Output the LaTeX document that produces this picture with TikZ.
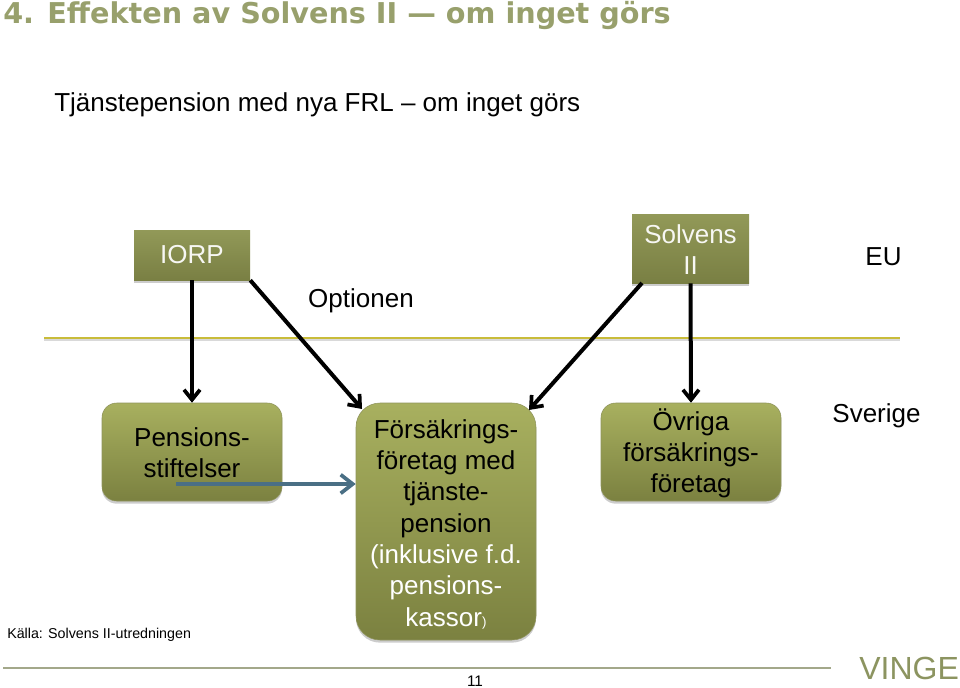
\documentclass[tikz,border=0pt]{standalone}
\usepackage{fontspec}
\setmainfont{Liberation Sans}
\newfontfamily\titlefont{DejaVu Sans}
\usetikzlibrary{shadows,arrows.meta,calc}
\definecolor{olivetext}{HTML}{98A06C}
\definecolor{vingecol}{HTML}{8C9460}
\definecolor{boxtop}{HTML}{A8B05F}
\definecolor{boxmid}{HTML}{939A4C}
\definecolor{boxbot}{HTML}{7B8140}
\definecolor{recttop}{HTML}{929958}
\definecolor{rectbot}{HTML}{797F43}
\definecolor{bluearrow}{HTML}{4A6F85}
\definecolor{rule}{HTML}{C9BC3A}
\definecolor{footline}{HTML}{A3A88A}
\tikzset{
  x=0.75pt,y=-0.75pt,
  txt/.style={inner sep=0pt,font=\fontsize{19.5}{23.5}\selectfont,align=center,text=black},
  boxtxt/.style={txt,yshift=-1.9pt},
  whitetxt/.style={txt,text=white!92!olivetext},
  roundbox/.style={rounded corners=#1,top color=boxtop,middle color=boxmid,bottom color=boxbot,draw=boxbot!85!white,line width=.4pt,
    drop shadow={shadow xshift=0pt,shadow yshift=-2pt,opacity=.4}},
  rectbox/.style={top color=recttop,bottom color=rectbot,
    drop shadow={shadow xshift=0pt,shadow yshift=-2pt,opacity=.4}},
  conn/.style={line width=3pt,draw=black,-{Straight Barb[length=7.5pt,width=12pt,line width=2.8pt]}},
  bconn/.style={line width=3pt,draw=bluearrow,-{Straight Barb[length=9pt,width=14pt,line width=2.8pt]}},
}
\begin{document}
\begin{tikzpicture}
\useasboundingbox (0,0) rectangle (960,688);
\fill[white] (0,0) rectangle (960,688);
% title
\node[name=title,anchor=west,inner sep=0pt,text=olivetext,font=\titlefont\bfseries\fontsize{21.5}{24}\selectfont] at (3,15.5) {4. Ef{}fekten av Solvens II — om inget görs};
\node[name=subtitle,anchor=west,txt] at (54,105) {Tjänstepension med nya FRL – om inget görs};
% rule
\coordinate (ruleL) at (44,338);
\coordinate (ruleR) at (900,338);
\draw[line width=2pt,draw=black,opacity=.15] ($(ruleL)+(0,2)$) -- ($(ruleR)+(0,2)$);
\draw[line width=2pt,draw=rule] (ruleL) -- (ruleR);
% boxes
\node[name=iorp,rectbox,minimum width=87pt,minimum height=37.5pt,label={[whitetxt]center:IORP}] at (192,255) {};
\node[name=solvens,rectbox,minimum width=87.75pt,minimum height=51.75pt,label={[whitetxt,yshift=-.7pt]center:{Solvens\\II}}] at (690.5,248.5) {};
\node[name=pens,roundbox=11pt,minimum width=135pt,minimum height=73.5pt,label={[boxtxt,yshift=1.4pt]center:{Pensions-\\stiftelser}}] at (192,452) {};
\node[name=fors,roundbox=18pt,minimum width=135pt,minimum height=177.75pt,label={[boxtxt]center:{Försäkrings-\\företag med\\tjänste-\\pension\\{\color{white}(inklusive f.d.}\\{\color{white}pensions-}\\{\color{white}kassor{\fontsize{10}{12}\selectfont )}}}}] at (446,521.5) {};
\node[name=ovriga,roundbox=11pt,minimum width=135pt,minimum height=73.5pt,label={[boxtxt,yshift=1pt]center:{Övriga\\försäkrings-\\företag}}] at (691,452) {};
% labels
\node[name=optionen,txt] at (361,301) {Optionen};
\node[name=eu,txt] at (883.5,256.5) {EU};
\node[name=sverige,txt] at (876.5,416) {Sverige};
\node[name=kalla,anchor=west,inner sep=0pt,font=\fontsize{10.7}{12}\selectfont] at (7,635) {Källa: Solvens II-utredningen};
\node[name=pagenum,inner sep=0pt,font=\fontsize{11.5}{14}\selectfont] at (475,681.5) {11};
% connectors
\coordinate (forsNW) at (362,409);
\coordinate (forsNE) at (529,410);
\coordinate (solvSW) at (642,283);
\draw[conn] (iorp.south) -- (pens.north);
\draw[conn] (iorp.south east) -- (forsNW);
\draw[conn] (solvSW) -- (forsNE);
\draw[conn] (solvens.south) -- (ovriga.north);
\coordinate (blueS) at (176,484);
\draw[bconn] (blueS) -- (blueS -| fors.west);
% footer
\coordinate (footL) at (3,668);
\coordinate (footR) at (831,668);
\draw[line width=.8pt,draw=footline] (footL) -- (footR);
\node[name=vinge,anchor=west,inner sep=0pt,text=vingecol,font=\fontsize{24}{24}\selectfont] at (859,668.5) {VINGE};
\end{tikzpicture}
\end{document}
